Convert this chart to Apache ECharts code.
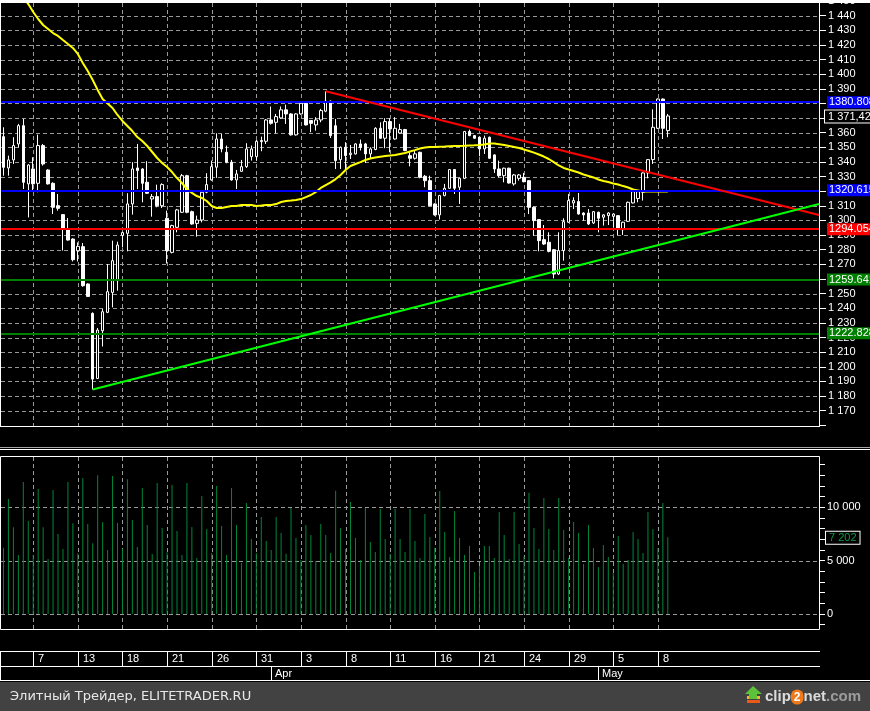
<!DOCTYPE html>
<html><head><meta charset="utf-8">
<script src="https://cdn.jsdelivr.net/npm/echarts/dist/echarts.min.js"></script>
<style>html,body{margin:0;padding:0;background:#000;overflow:hidden}#c{width:870px;height:711px}</style>
</head><body><div id="c"></div>
<script>
// ---------- DATA ----------
const openP = [1357.3,1335.9,1341.4,1352.3,1364.8,1325.0,1335.2,1325.4,1351.2,1334.5,
1325.4,1310.1,1304.0,1294.2,1287.3,1279.3,1282.1,1256.6,1236.5,1192.0,
1224.6,1237.2,1250.8,1258.8,1289.8,1291.2,1311.3,1335.9,1335.2,1326.1,
1314.7,1316.3,1310.1,1301.5,1278.2,1295.3,1305.6,1330.6,1306.0,1298.0,
1300.3,1319.3,1327.7,1336.4,1355.7,1346.6,1339.8,1327.7,1333.6,1336.8,
1343.6,1343.6,1354.6,1354.1,1368.7,1367.1,1370.1,1375.6,1372.8,1358.5,
1372.8,1380.1,1368.3,1365.3,1368.7,1374.7,1381.5,1364.8,1341.6,1350.0,
1345.0,1345.5,1352.3,1352.3,1345.5,1348.5,1363.0,1356.2,1367.6,1355.7,
1359.8,1362.1,1344.3,1342.5,1346.6,1330.2,1327.2,1311.3,1303.8,1317.0,
1322.0,1334.8,1322.7,1328.8,1360.8,1358.0,1356.9,1348.9,1356.9,1344.8,
1335.2,1330.6,1335.7,1325.0,1328.8,1329.5,1327.2,1309.0,1300.6,1286.9,
1285.1,1280.0,1263.4,1279.4,1298.8,1312.0,1312.9,1305.1,1305.1,1298.3,
1305.6,1302.2,1303.3,1302.8,1303.3,1293.7,1299.4,1312.0,1315.0,1319.3,
1332.5,1341.6,1363.0,1383.0,1361.4];
const closeP = [1336.3,1341.4,1351.2,1364.8,1326.1,1337.9,1325.0,1351.2,1338.6,1325.0,
1309.0,1308.3,1294.2,1286.6,1273.2,1282.3,1255.4,1248.1,1191.6,1225.1,
1237.6,1251.3,1272.5,1283.2,1291.7,1311.3,1335.2,1334.1,1325.4,1318.6,
1316.3,1310.1,1324.5,1279.4,1296.5,1307.2,1330.6,1305.6,1297.6,1300.3,
1319.3,1324.5,1336.8,1355.7,1348.9,1339.8,1327.7,1331.8,1336.8,1348.9,
1348.9,1354.1,1353.9,1368.7,1366.4,1371.0,1375.6,1372.8,1358.5,1372.8,
1380.1,1365.3,1366.4,1368.7,1375.1,1381.5,1358.0,1340.9,1350.0,1344.3,
1346.0,1352.3,1350.0,1345.5,1348.9,1363.0,1356.2,1367.6,1362.6,1363.0,
1362.1,1347.8,1342.5,1345.5,1329.5,1327.2,1310.1,1303.8,1317.0,1322.0,
1334.8,1322.0,1328.8,1360.8,1358.0,1356.2,1348.9,1356.2,1342.5,1335.2,
1330.6,1335.7,1325.6,1331.1,1331.1,1326.5,1309.0,1299.9,1286.2,1283.9,
1278.9,1263.4,1279.4,1299.2,1313.6,1313.6,1304.4,1303.8,1297.6,1306.0,
1301.5,1303.8,1305.1,1304.4,1294.2,1298.8,1312.4,1319.7,1319.7,1332.5,
1341.6,1363.7,1383.0,1363.0,1371.42];
const lowP = [1330.6,1330.6,1338.6,1350.0,1321.5,1302.1,1320.4,1319.3,1337.5,1324.5,
1304.4,1306.7,1279.4,1286.2,1272.0,1272.0,1254.7,1248.1,1184.5,1191.6,
1213.9,1236.7,1240.6,1252.0,1281.6,1278.9,1304.0,1321.5,1312.4,1318.1,
1302.6,1309.0,1308.5,1270.6,1277.5,1291.9,1305.1,1304.9,1297.1,1288.9,
1298.7,1318.6,1327.2,1329.1,1346.6,1339.1,1327.2,1321.5,1333.2,1335.9,
1340.9,1340.9,1347.3,1352.3,1365.5,1359.6,1369.4,1366.0,1358.0,1358.0,
1372.3,1364.9,1360.3,1361.4,1367.1,1374.0,1356.4,1335.2,1335.2,1335.2,
1342.0,1345.0,1347.8,1339.3,1342.0,1348.0,1355.7,1349.4,1346.6,1355.2,
1359.2,1347.3,1337.0,1341.6,1328.8,1322.7,1309.7,1303.3,1300.6,1316.5,
1321.5,1318.1,1311.3,1328.3,1357.6,1355.8,1343.9,1345.5,1342.0,1332.5,
1329.5,1326.1,1325.2,1323.8,1327.2,1326.1,1304.4,1289.6,1278.9,1283.2,
1278.2,1260.4,1262.7,1272.5,1298.4,1307.8,1304.0,1299.9,1296.9,1297.6,
1291.9,1296.5,1296.9,1295.3,1290.1,1290.1,1299.0,1311.6,1312.4,1313.6,
1328.8,1338.6,1362.6,1355.7,1356.9];
const highP = [1363.7,1344.3,1356.9,1366.0,1369.4,1338.5,1343.2,1358.7,1352.3,1335.0,
1326.1,1318.1,1304.4,1301.7,1287.8,1285.0,1284.6,1257.0,1237.2,1226.5,
1239.5,1270.2,1286.2,1285.5,1292.6,1318.6,1339.8,1352.3,1335.7,1340.5,
1318.1,1324.5,1325.4,1306.7,1297.1,1307.9,1331.8,1331.2,1306.7,1303.3,
1319.7,1332.3,1340.9,1359.6,1359.2,1351.2,1341.4,1334.5,1341.4,1352.8,
1351.2,1355.0,1357.3,1369.4,1377.9,1372.8,1377.9,1379.2,1373.3,1373.3,
1381.5,1380.6,1368.7,1370.6,1376.3,1388.3,1382.0,1369.4,1350.5,1353.5,
1351.6,1352.8,1355.3,1353.0,1350.0,1363.7,1367.1,1369.9,1369.9,1370.6,
1366.0,1362.6,1346.6,1347.8,1347.0,1331.1,1330.6,1311.8,1317.5,1325.0,
1335.2,1335.2,1329.2,1361.2,1362.1,1358.4,1357.3,1358.0,1357.3,1345.2,
1340.9,1336.1,1336.1,1331.8,1331.8,1332.5,1327.6,1309.4,1301.0,1296.9,
1291.9,1280.4,1291.9,1301.5,1318.1,1315.8,1318.8,1305.6,1307.8,1306.4,
1306.0,1304.4,1305.6,1304.8,1303.7,1299.2,1312.9,1320.4,1320.1,1332.9,
1342.0,1376.0,1383.4,1383.4,1372.8];
const maValues = [null,null,null,null,1453.0,1447.9,1442.5,1437.7,1433.6,1430.9,
1428.1,1426.1,1423.3,1420.6,1417.9,1413.8,1407.6,1402.2,1396.0,1389.2,
1383.0,1379.9,1376.9,1372.1,1368.0,1364.6,1361.1,1357.0,1354.3,1350.9,
1346.8,1342.7,1339.3,1336.5,1333.1,1329.0,1325.6,1321.5,1318.8,1316.7,
1315.4,1313.3,1309.9,1308.5,1308.5,1309.2,1309.9,1309.9,1310.6,1310.6,
1310.6,1309.9,1310.2,1310.6,1310.6,1311.2,1312.6,1313.3,1313.6,1314.0,
1314.6,1316.0,1317.4,1319.4,1322.2,1324.2,1326.0,1328.3,1331.1,1334.5,
1337.2,1338.6,1339.9,1341.3,1342.3,1343.0,1343.6,1344.0,1344.4,1344.7,
1345.4,1346.1,1347.1,1348.1,1349.2,1349.9,1350.2,1350.2,1350.4,1350.5,
1350.7,1350.9,1350.9,1351.0,1351.3,1351.4,1351.6,1351.9,1352.6,1352.6,
1352.1,1351.6,1350.9,1350.2,1349.5,1348.5,1347.5,1346.4,1345.1,1343.7,
1342.0,1339.9,1337.6,1335.9,1334.8,1333.8,1332.8,1331.4,1330.4,1329.4,
1328.0,1327.0,1326.3,1325.3,1324.6,1323.5,1322.5,1321.2,1320.5,1319.8,
1319.8,1319.8,1319.8,1319.8,1319.8];
const volumes = [6221,10786,8128,5533,12381,8722,5500,11724,8128,5157,
11630,7503,6096,12381,8504,5689,12756,8441,6627,13006,
8629,6002,12944,8535,6096,12631,8816,6284,11818,8347,
5627,12287,8066,5800,12100,7784,5533,12287,8159,5251,
11068,7972,5721,12006,8253,5533,11818,8347,4782,10411,
7034,5721,9098,6846,6002,9098,7597,5658,9942,7128,
5064,8347,7409,4970,8441,7409,5721,11568,8066,6096,
10505,7128,5064,9942,6753,5814,9848,7034,5627,9848,
7034,5814,9848,6846,5251,9379,7222,6221,11537,7690,
5345,9660,7128,5533,6377,3938,4501,6377,6377,5251,
9567,7409,5157,9567,6565,5400,11380,8066,6096,10880,
7972,6002,10880,7878,5251,8629,7597,4689,8347,6190,
4407,6471,5345,3876,7315,4689,5064,7690,7034,5720,
9567,7972,6190,10411,7202];
const dateLabels = ['7','13','18','21','26','31','3','8','11','16','21','24','29','5','8'];
const dateBars   = [6,15,24,33,42,51,60,69,78,87,96,105,114,123,132];
const monthLabels = ['Apr','May'];
const monthBars   = [54,120];
const priceLevels = [1380.808,1320.615,1294.054,1259.641,1222.828];
const priceGridMin = 1160, priceGridMax = 1450, priceGridStep = 10;
const resistanceLine = [[65,1388.3],[164.5,1303.7]];
const supportLine    = [[18,1184.5],[164.5,1311.2]];
const lastPrice = 1371.42;
const lastPriceText = '1 371,42';
const lastVolume = 7202;
const lastVolumeText = '7 202';
const volumeLabelTicks = [0,5000,10000];
const footerText = 'Элитный Трейдер, ELITETRADER.RU';

// ---------- STYLE ----------
const levelColors = ['#0000ff','#0000ff','#ff0000','#008000','#008000'];
const GRID_C = '#9a9a9a';
const DASH_ON = 4, DASH_OFF = 3;
const FONT = 'Liberation Sans, Arial, sans-serif';
const N_SLOTS = 165;
const slots = Array.from({length:N_SLOTS},(_,i)=>String(i));

function fmtThousands(v){
  if (v < 1000) return String(v);
  return Math.floor(v/1000) + ' ' + String(v%1000).padStart(3,'0');
}

const chart = echarts.init(document.getElementById('c'), null, {renderer:'canvas'});
const candleData = openP.map((o,i)=>[o, closeP[i], lowP[i], highP[i]]);

const option = {
  animation:false,
  backgroundColor:'#000',
  grid:[
    {left:1, right:51, top:1, height:424.3, outerBoundsMode:'none'},
    {left:1, right:51, top:456, height:173, outerBoundsMode:'none'},
    {left:1, right:51, top:464.67, height:160, outerBoundsMode:'none'}
  ],
  xAxis:[
    {type:'category', gridIndex:0, data:slots, boundaryGap:true, show:false},
    {type:'value', gridIndex:0, min:-0.5, max:164.5, show:false},
    {type:'category', gridIndex:1, data:slots, boundaryGap:true, show:false},
    {type:'value', gridIndex:2, min:0, max:1, show:false}
  ],
  yAxis:[
    {type:'value', gridIndex:0, position:'right', min:priceGridMin, max:priceGridMax, interval:priceGridStep,
     axisLine:{show:true, onZero:false, lineStyle:{color:'#fff', width:1}},
     axisTick:{show:true, length:7, lineStyle:{color:'#fff'}},
     axisLabel:{show:true, color:'#fff', fontFamily:FONT, fontSize:11, margin:9,
       showMinLabel:true, showMaxLabel:true,
       formatter:v=> v===priceGridMin ? '' : fmtThousands(v)},
     splitLine:{show:false}
    },
    {type:'value', gridIndex:1, min:-1407, max:14820, show:false, splitLine:{show:false}},
    {type:'value', gridIndex:2, position:'right', min:-1000, max:14000, interval:1000,
     axisLine:{show:true, onZero:false, lineStyle:{color:'#fff'}},
     axisTick:{show:true, length:6, lineStyle:{color:'#fff'}},
     axisLabel:{show:true, color:'#fff', fontFamily:FONT, fontSize:11, margin:8,
       showMinLabel:true, showMaxLabel:true,
       formatter:v=> volumeLabelTicks.indexOf(v)>=0 ? fmtThousands(v) : ''},
     splitLine:{show:false}
    }
  ],
  series:[
    {type:'candlestick', xAxisIndex:0, yAxisIndex:0, data:candleData, barWidth:3, z:2,
     itemStyle:{color:'#000', color0:'#fff', borderColor:'#fff', borderColor0:'#fff', borderWidth:1},
     markLine:{symbol:['none','none'], silent:true, animation:false,
       data: priceLevels.map((v,k)=>({yAxis:v,
         lineStyle:{color:levelColors[k], width:2, type:'solid'},
         label:{show:true, position:'end', formatter:String(v), color:'#fff',
           backgroundColor:levelColors[k], padding:[1,2,0,2], distance:8,
           fontFamily:FONT, fontSize:11}}))}},
    {type:'line', xAxisIndex:0, yAxisIndex:0, data:maValues, symbol:'none', z:3, clip:true,
     lineStyle:{color:'#ffff00', width:2}},
    {type:'line', xAxisIndex:1, yAxisIndex:0, data:resistanceLine, symbol:'none', z:5, clip:true,
     lineStyle:{color:'#ff0000', width:2}},
    {type:'line', xAxisIndex:1, yAxisIndex:0, data:supportLine, symbol:'none', z:5, clip:true,
     lineStyle:{color:'#00ff00', width:2}},
    {type:'bar', xAxisIndex:2, yAxisIndex:1, data:volumes, barWidth:1, z:2,
     itemStyle:{color:'#00873a'}}
  ]
};
chart.setOption(option);

// ---------- grid lines, frame, axis rows, footer ----------
const g = [];
function rect(x,y,w,h,fill,z){ g.push({type:'rect', shape:{x,y,width:w,height:h}, style:{fill}, z:(z===undefined?100:z), silent:true}); }
const pxI = b => Math.round(chart.convertToPixel({xAxisIndex:0}, b));
const pyMainI = v => Math.round(chart.convertToPixel({yAxisIndex:0}, v));
const pyVolI = v => Math.round(chart.convertToPixel({yAxisIndex:1}, v));
function hDash(y, x1, x2){ for (let x = x1; x < x2; x += DASH_ON + DASH_OFF) rect(x, y, Math.min(DASH_ON, x2 - x), 1, GRID_C, 1); }
function vDash(x, y1, y2){ for (let y = y1; y < y2; y += DASH_ON + DASH_OFF) rect(x, y, 1, Math.min(DASH_ON, y2 - y), GRID_C, 1); }
for (let v = priceGridMin + priceGridStep; v < priceGridMax; v += priceGridStep) hDash(pyMainI(v), 1, 819);
dateBars.forEach(b=>{ vDash(pxI(b), 3, 426); vDash(pxI(b), 457, 629); });
volumeLabelTicks.forEach(v=> hDash(pyVolI(v), 1, 819));

// last price / volume labels
g.push({type:'text', x:825, y:chart.convertToPixel({yAxisIndex:0}, lastPrice)+0.5, style:{text:lastPriceText, fill:'#fff',
  font:'11px '+FONT, textVerticalAlign:'middle', backgroundColor:'#000', borderColor:'#fff', borderWidth:1, padding:[1,3,0,3]}, z:110, silent:true});
g.push({type:'text', x:826, y:chart.convertToPixel({yAxisIndex:1}, lastVolume)+0.5, style:{text:lastVolumeText, fill:'#0a9a4a',
  font:'11px '+FONT, textVerticalAlign:'middle', backgroundColor:'#000', borderColor:'#fff', borderWidth:1, padding:[1,3,0,3]}, z:110, silent:true});

rect(0,0,870,3,'#fff');
rect(0,0,1,427,'#fff');
rect(0,426,820,1,'#fff');
rect(0,447,870,1,'#a8a8a8');
rect(0,449,870,1,'#fff');
g.push({type:'rect', shape:{x:0.5,y:456.5,width:819,height:173}, style:{fill:null, stroke:'#fff', lineWidth:1}, z:100, silent:true});
rect(0,651,820,1,'#fff');
rect(0,666,820,1,'#fff');
rect(0,680,870,1,'#fff');
rect(0,651,1,30,'#fff');
dateBars.forEach((b,k)=>{
  const x = pxI(b);
  rect(x,651,1,15,'#fff');
  g.push({type:'text', x:x+5, y:659, style:{text:dateLabels[k], fill:'#fff', font:'11px '+FONT, textVerticalAlign:'middle', textAlign:'left'}, z:101, silent:true});
});
monthBars.forEach((b,k)=>{
  const x = pxI(b);
  rect(x,666,1,15,'#fff');
  g.push({type:'text', x:x+4, y:674, style:{text:monthLabels[k], fill:'#fff', font:'11px '+FONT, textVerticalAlign:'middle', textAlign:'left'}, z:101, silent:true});
});
rect(0,682,870,29,'#424242');
g.push({type:'text', x:10, y:697, style:{text:footerText, fill:'#e8e8e8', font:'13px DejaVu Sans, sans-serif', textVerticalAlign:'middle'}, z:101, silent:true});
// clip2net logo
rect(747,700,13,3,'#e85a1a',101);
rect(747,696,13,3,'#f5b82e',101);
g.push({type:'polygon', shape:{points:[[753,686],[762,694],[757,694],[757,699],[749,699],[749,694],[745,694]]}, style:{fill:'#5cc23a'}, z:102, silent:true});
g.push({type:'text', x:765, y:697, style:{
  text:'{a|clip}{b|2}{a|net}{c|.com}', textVerticalAlign:'middle',
  rich:{
    a:{fill:'#dcdcdc', font:'bold 15px Liberation Sans, Arial, sans-serif'},
    b:{fill:'#fff', backgroundColor:'#f07a1a', borderRadius:8, font:'bold 12px Liberation Sans, Arial, sans-serif', padding:[2,3,1,3]},
    c:{fill:'#9c9c9c', font:'bold 15px Liberation Sans, Arial, sans-serif'}
  }}, z:102, silent:true});
chart.setOption({graphic:g});
</script>
</body></html>
